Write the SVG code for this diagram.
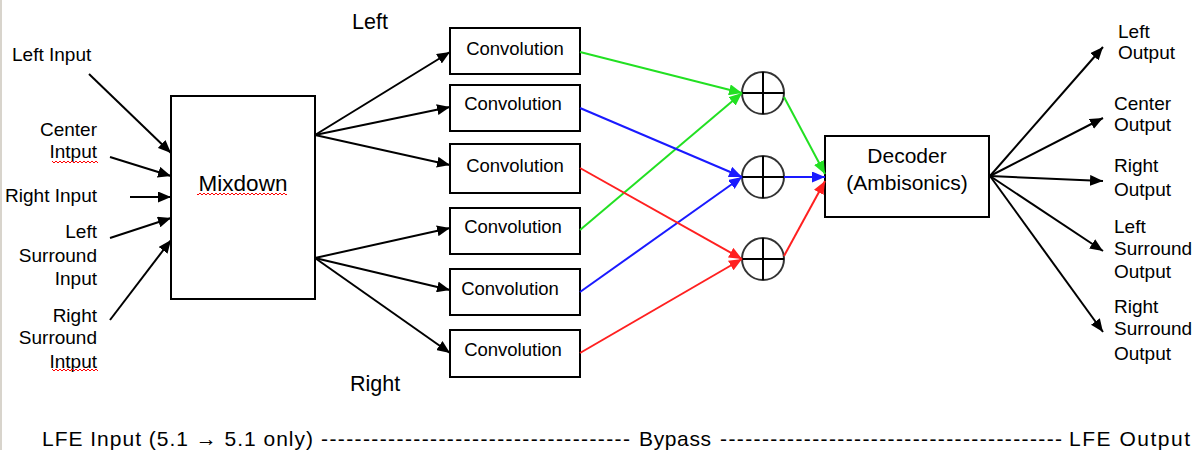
<svg xmlns="http://www.w3.org/2000/svg" width="1194" height="450" viewBox="0 0 1194 450">
<style>
  text { font-family: "Liberation Sans", Arial, sans-serif; fill: #000; }
  .lbl { font-size: 19px; }
  .conv { font-size: 18.5px; text-anchor: middle; }
  .lfe { font-size: 21px; }
  .box { fill: #fff; stroke: #000; stroke-width: 2; }
  .sum { fill: #fff; stroke: #333; stroke-width: 2; }
  .cross { stroke: #000; stroke-width: 2; }
  .blk { stroke: #000; stroke-width: 2; fill: none; marker-end: url(#ah); }
  .g { stroke: #22e022; stroke-width: 2; fill: none; marker-end: url(#ahG); }
  .b { stroke: #1a1aff; stroke-width: 2; fill: none; marker-end: url(#ahB); }
  .r { stroke: #ff2020; stroke-width: 2; fill: none; marker-end: url(#ahR); }
  .end { text-anchor: end; }
</style>
<defs>
  <marker id="ah" viewBox="0 0 13 11" refX="13" refY="5.5" markerWidth="13" markerHeight="11" markerUnits="userSpaceOnUse" orient="auto"><path d="M0,0 L13,5.5 L0,11 z" fill="#000"/></marker>
  <marker id="ahG" viewBox="0 0 13 11" refX="13" refY="5.5" markerWidth="13" markerHeight="11" markerUnits="userSpaceOnUse" orient="auto"><path d="M0,0 L13,5.5 L0,11 z" fill="#22e022"/></marker>
  <marker id="ahB" viewBox="0 0 13 11" refX="13" refY="5.5" markerWidth="13" markerHeight="11" markerUnits="userSpaceOnUse" orient="auto"><path d="M0,0 L13,5.5 L0,11 z" fill="#1a1aff"/></marker>
  <marker id="ahR" viewBox="0 0 13 11" refX="13" refY="5.5" markerWidth="13" markerHeight="11" markerUnits="userSpaceOnUse" orient="auto"><path d="M0,0 L13,5.5 L0,11 z" fill="#ff2020"/></marker>
  <pattern id="squig" x="0" y="0" width="4" height="4" patternUnits="userSpaceOnUse"><path d="M0,1 L2,3 L4,1" stroke="#ff0000" stroke-width="1" fill="none"/></pattern>
</defs>
<rect x="0" y="0" width="1194" height="450" fill="#fff"/>
<line x1="1" y1="0" x2="1" y2="450" stroke="#d8d4cc" stroke-width="2"/>

<!-- input labels -->
<g id="in-left"><text class="lbl" x="12" y="61">Left Input</text></g>
<g id="in-center"><text class="lbl end" x="97" y="136">Center</text><text class="lbl end" x="97" y="158">Intput</text><rect x="52" y="160" width="46" height="4" fill="url(#squig)"/></g>
<g id="in-right"><text class="lbl end" x="97" y="202">Right Input</text></g>
<g id="in-ls"><text class="lbl end" x="97" y="238">Left</text><text class="lbl end" x="97" y="262">Surround</text><text class="lbl end" x="97" y="285">Input</text></g>
<g id="in-rs"><text class="lbl end" x="97" y="322">Right</text><text class="lbl end" x="97" y="344">Surround</text><text class="lbl end" x="97" y="368">Intput</text><rect x="52" y="368" width="46" height="4" fill="url(#squig)"/></g>

<!-- mixdown -->
<g id="mixdown">
  <rect class="box" x="171" y="96" width="144" height="203"/>
  <text x="243" y="191" font-size="22.5" text-anchor="middle">Mixdown</text>
  <rect x="197" y="192" width="90" height="4" fill="url(#squig)"/>
</g>

<g id="lbl-left"><text x="352" y="29" font-size="21.5">Left</text></g>
<g id="lbl-right"><text x="350" y="391" font-size="21.5">Right</text></g>

<!-- convolutions -->
<g id="conv1"><rect class="box" x="450" y="28" width="130" height="46"/><text class="conv" x="515" y="55">Convolution</text></g>
<g id="conv2"><rect class="box" x="450" y="85" width="130" height="46"/><text class="conv" x="513" y="110">Convolution</text></g>
<g id="conv3"><rect class="box" x="450" y="144" width="130" height="49"/><text class="conv" x="515" y="172">Convolution</text></g>
<g id="conv4"><rect class="box" x="450" y="208" width="130" height="46"/><text class="conv" x="513" y="233">Convolution</text></g>
<g id="conv5"><rect class="box" x="450" y="269" width="130" height="46"/><text class="conv" x="510" y="295">Convolution</text></g>
<g id="conv6"><rect class="box" x="450" y="330" width="130" height="47"/><text class="conv" x="513" y="356">Convolution</text></g>

<!-- summers -->
<g id="sum1"><circle class="sum" cx="763" cy="93" r="21"/><line class="cross" x1="742" y1="93" x2="784" y2="93"/><line class="cross" x1="763" y1="72" x2="763" y2="114"/></g>
<g id="sum2"><circle class="sum" cx="763" cy="177" r="21"/><line class="cross" x1="742" y1="177" x2="784" y2="177"/><line class="cross" x1="763" y1="156" x2="763" y2="198"/></g>
<g id="sum3"><circle class="sum" cx="763" cy="259" r="21"/><line class="cross" x1="742" y1="259" x2="784" y2="259"/><line class="cross" x1="763" y1="238" x2="763" y2="280"/></g>

<!-- decoder -->
<g id="decoder">
  <rect class="box" x="825" y="136" width="164" height="81"/>
  <text x="907" y="163" font-size="21" text-anchor="middle">Decoder</text>
  <text x="907" y="190" font-size="21" text-anchor="middle">(Ambisonics)</text>
</g>

<!-- output labels -->
<g id="out-left"><text class="lbl" x="1118" y="38">Left</text><text class="lbl" x="1118" y="59">Output</text></g>
<g id="out-center"><text class="lbl" x="1114" y="110">Center</text><text class="lbl" x="1114" y="131">Output</text></g>
<g id="out-right"><text class="lbl" x="1114" y="172">Right</text><text class="lbl" x="1114" y="196">Output</text></g>
<g id="out-ls"><text class="lbl" x="1114" y="233">Left</text><text class="lbl" x="1114" y="255">Surround</text><text class="lbl" x="1114" y="278">Output</text></g>
<g id="out-rs"><text class="lbl" x="1114" y="313">Right</text><text class="lbl" x="1114" y="335">Surround</text><text class="lbl" x="1114" y="360">Output</text></g>

<!-- LFE bypass -->
<g id="lfe">
  <text class="lfe" x="42" y="446" textLength="271" lengthAdjust="spacing">LFE Input (5.1 → 5.1 only)</text>
  <text class="lfe" x="321" y="446" textLength="309" lengthAdjust="spacing">-------------------------------------</text>
  <text class="lfe" x="639" y="446" textLength="72" lengthAdjust="spacing">Bypass</text>
  <text class="lfe" x="720" y="446" textLength="342" lengthAdjust="spacing">-----------------------------------------</text>
  <text class="lfe" x="1069" y="446" textLength="121" lengthAdjust="spacing">LFE Output</text>
</g>

<!-- connectors -->
<g id="connectors">
  <line class="blk" x1="89" y1="74" x2="171" y2="153"/>
  <line class="blk" x1="110" y1="157" x2="171" y2="176"/>
  <line class="blk" x1="130" y1="197" x2="171" y2="197"/>
  <line class="blk" x1="110" y1="238" x2="171" y2="218"/>
  <line class="blk" x1="110" y1="320" x2="171" y2="240"/>

  <line class="blk" x1="315" y1="135" x2="450" y2="52"/>
  <line class="blk" x1="315" y1="135" x2="450" y2="107"/>
  <line class="blk" x1="315" y1="135" x2="450" y2="165"/>
  <line class="blk" x1="315" y1="258" x2="450" y2="228"/>
  <line class="blk" x1="315" y1="258" x2="450" y2="290"/>
  <line class="blk" x1="315" y1="258" x2="450" y2="353"/>

  <line class="g" x1="580" y1="52" x2="742" y2="93"/>
  <line class="g" x1="580" y1="230" x2="742" y2="93"/>
  <line class="b" x1="580" y1="108" x2="742" y2="177"/>
  <line class="b" x1="580" y1="292" x2="742" y2="177"/>
  <line class="r" x1="580" y1="168" x2="742" y2="259"/>
  <line class="r" x1="580" y1="353" x2="742" y2="259"/>

  <line class="g" x1="784" y1="97" x2="825" y2="174"/>
  <line class="b" x1="784" y1="177" x2="825" y2="177"/>
  <line class="r" x1="784" y1="256" x2="825" y2="181"/>

  <line class="blk" x1="990" y1="176" x2="1103" y2="47"/>
  <line class="blk" x1="990" y1="176" x2="1103" y2="118"/>
  <line class="blk" x1="990" y1="176" x2="1103" y2="181"/>
  <line class="blk" x1="990" y1="176" x2="1103" y2="251"/>
  <line class="blk" x1="990" y1="176" x2="1103" y2="332"/>
</g>
</svg>
